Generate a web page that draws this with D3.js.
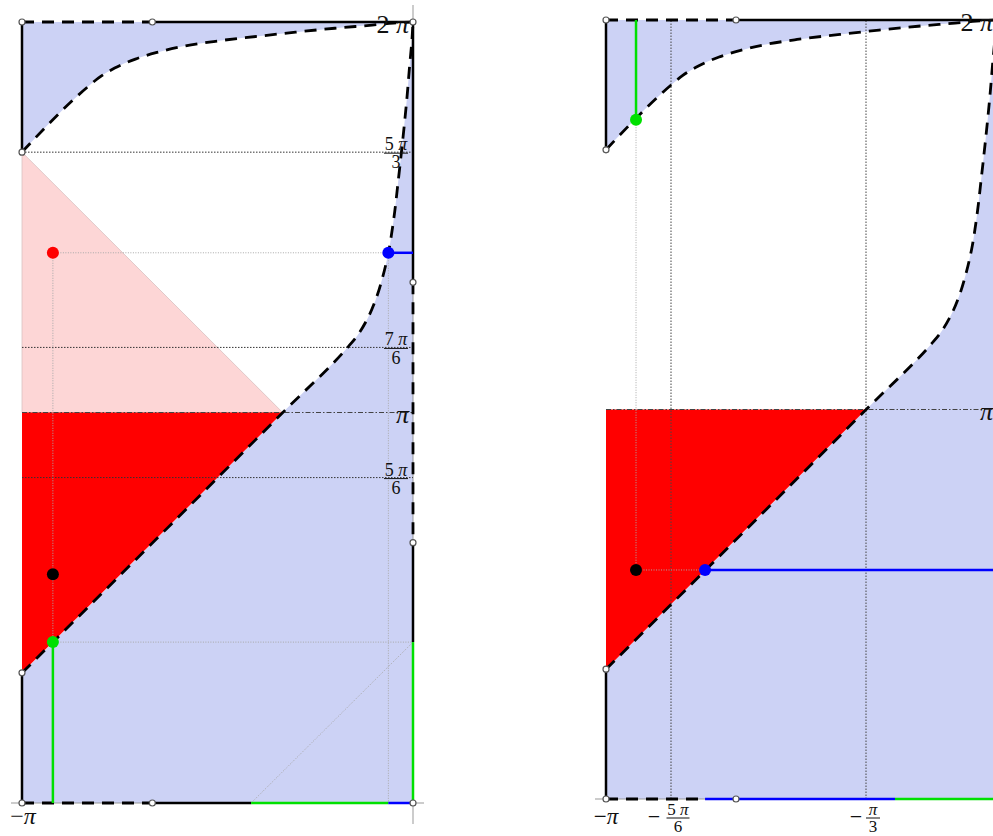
<!DOCTYPE html>
<html><head><meta charset="utf-8">
<script src="https://cdn.jsdelivr.net/npm/d3@7"></script>
<style>body{margin:0;background:#fff}svg{display:block}text{font-family:"Liberation Serif","DejaVu Serif",serif;fill:#111}</style>
</head><body>
<svg id="c" width="993" height="836"></svg>
<script>
// All values in units of π
const upperCurve = [[-1,1.667],[-0.833,1.833],[-0.804,1.857],[-0.763,1.882],[-0.71,1.905],[-0.655,1.922],[-0.591,1.937],[-0.51,1.95],[-0.40,1.963],[-0.30,1.974],[-0.20,1.984],[-0.105,1.992],[-0.05,1.997],[0,2]];
const lowerCurve = [[-1,0.333],[-0.333,1],[-0.167,1.167],[-0.143,1.196],[-0.118,1.237],[-0.095,1.29],[-0.078,1.345],[-0.063,1.409],[-0.05,1.49],[-0.037,1.60],[-0.026,1.70],[-0.016,1.80],[-0.008,1.895],[-0.003,1.95],[0,2]];
const redTriangle = [[-1,1/3],[-1,1],[-1/3,1]];
const pinkTriangle = [[-1,5/3],[-1,1],[-1/3,1]];

// left panel
const leftGridY = [5/3, 7/6, 5/6];
const leftDots = [[-0.921,1.409,"#ff0000"],[-0.063,1.409,"#0000ff"],[-0.921,0.586,"#000000"],[-0.921,0.412,"#00e000"]];
const leftSolid = [[[-1,2],[-1,5/3]],[[-1,1/3],[-1,0]],[[-2/3,2],[0,2]],[[-2/3,0],[-0.414,0]],[[0,2],[0,4/3]],[[0,2/3],[0,0.412]]];
const leftDashed = [[[-1,2],[-2/3,2]],[[-1,0],[-2/3,0]],[[0,4/3],[0,2/3]]];
const leftGreen = [[[-0.414,0],[-0.063,0]],[[0,0.412],[0,0]],[[-0.921,0.412],[-0.921,0]]];
const leftBlue = [[[-0.063,0],[0,0]],[[-0.063,1.409],[0,1.409]]];
const leftConstr = [[[-0.921,1.409],[-0.063,1.409]],[[-0.921,1.409],[-0.921,0.412]],[[-0.921,0.412],[0,0.412]],[[-0.063,1.409],[-0.063,0]],[[-0.414,0],[0,0.412]]];
const leftCircles = [[-1,2],[-2/3,2],[0,2],[-1,5/3],[0,4/3],[0,2/3],[-1,1/3],[-1,0],[-2/3,0],[0,0]];
const leftYLabels = [{v:5/3,n:"5",d:"3"},{v:7/6,n:"7",d:"6"},{v:5/6,n:"5",d:"6"}];

// right panel
const rightGridX = [-5/6, -1/3];
const rightDots = [[-0.923,1.744,"#00e000"],[-0.923,0.588,"#000000"],[-0.746,0.588,"#0000ff"]];
const rightSolid = [[[-1,2],[-1,5/3]],[[-1,1/3],[-1,0]],[[-2/3,2],[0,2]]];
const rightDashed = [[[-1,2],[-2/3,2]],[[-1,0],[-0.746,0]]];
const rightBlue = [[[-0.746,0],[-0.259,0]],[[-0.746,0.588],[0,0.588]]];
const rightGreen = [[[-0.259,0],[0,0]],[[-0.923,1.744],[-0.923,2]]];
const rightConstr = [[[-0.923,1.744],[-0.923,0.588]],[[-0.923,0.588],[-0.746,0.588]]];
const rightCircles = [[-1,2],[-2/3,2],[-1,5/3],[-1,1/3],[-1,0],[-2/3,0]];
const rightXLabels = [{v:-5/6,n:"5",d:"6",off:24},{v:-1/3,n:"",d:"3",off:17}];

const BLUEFILL = "#ccd2f5", PINK = "#fdd6d6", RED = "#ff0000", GREEN = "#00e000", BLUE = "#0000ff";

const svg = d3.select("#c");

function panel(x, y, opts) {
  const g = svg.append("g");
  const lineU = d3.line().x(d=>x(d[0])).y(d=>y(d[1])).curve(d3.curveMonotoneX);
  const lineL = d3.line().x(d=>x(d[0])).y(d=>y(d[1])).curve(d3.curveMonotoneY);
  const seg = d3.line().x(d=>x(d[0])).y(d=>y(d[1]));
  g.append("rect").attr("x", x(-1)).attr("y", y(2)).attr("width", x(0)-x(-1)).attr("height", y(0)-y(2)).attr("fill", BLUEFILL);
  g.append("path").attr("d", lineU(upperCurve) + `L${x(0)},${y(0)}L${x(-1)},${y(0)}Z`).attr("fill", "#fff");
  g.append("path").attr("d", lineL(lowerCurve) + `L${x(0)},${y(0)}L${x(-1)},${y(0)}Z`).attr("fill", BLUEFILL);
  if (opts.pink) g.append("path").attr("d", seg(pinkTriangle)+"Z").attr("fill", PINK).attr("stroke","#d9c2c2").attr("stroke-width",0.8);
  g.append("path").attr("d", seg(redTriangle)+"Z").attr("fill", RED);
  g.append("line").attr("x1", x(-1)-11).attr("x2", opts.axisRight).attr("y1", y(0)).attr("y2", y(0)).attr("stroke","#999").attr("stroke-width",1);
  if (opts.vaxis) g.append("line").attr("x1", x(0)).attr("x2", x(0)).attr("y1", 5).attr("y2", 824).attr("stroke","#999").attr("stroke-width",1);
  (opts.gridY||[]).forEach(v => g.append("line").attr("x1",x(-1)).attr("x2",x(0)).attr("y1",y(v)).attr("y2",y(v)).attr("stroke","#333").attr("stroke-width",1).attr("stroke-dasharray","1.5,1.5"));
  (opts.gridX||[]).forEach(v => g.append("line").attr("x1",x(v)).attr("x2",x(v)).attr("y1",y(0)).attr("y2",y(2)).attr("stroke","#444").attr("stroke-width",1).attr("stroke-dasharray","1.5,1.5"));
  g.append("line").attr("x1",x(-1)).attr("x2",x(0)).attr("y1",y(1)).attr("y2",y(1)).attr("stroke","#444").attr("stroke-width",1).attr("stroke-dasharray","5,2,1.5,2");
  opts.constr.forEach(s => g.append("path").attr("d", seg(s)).attr("fill","none").attr("stroke","#a8a8a8").attr("stroke-width",1).attr("stroke-dasharray","1,1.5"));
  opts.solid.forEach(s => g.append("path").attr("d", seg(s)).attr("fill","none").attr("stroke","#000").attr("stroke-width",2.5));
  opts.dashed.forEach(s => g.append("path").attr("d", seg(s)).attr("fill","none").attr("stroke","#000").attr("stroke-width",2.8).attr("stroke-dasharray","12,8"));
  g.append("path").attr("d", lineU(upperCurve)).attr("fill","none").attr("stroke","#000").attr("stroke-width",2.8).attr("stroke-dasharray","12,8");
  g.append("path").attr("d", lineL(lowerCurve)).attr("fill","none").attr("stroke","#000").attr("stroke-width",2.8).attr("stroke-dasharray","12,8");
  opts.green.forEach(s => g.append("path").attr("d", seg(s)).attr("fill","none").attr("stroke",GREEN).attr("stroke-width",2.5));
  opts.blue.forEach(s => g.append("path").attr("d", seg(s)).attr("fill","none").attr("stroke",BLUE).attr("stroke-width",2.5));
  opts.circles.forEach(c => g.append("circle").attr("cx",x(c[0])).attr("cy",y(c[1])).attr("r",3).attr("fill","#fff").attr("stroke","#555").attr("stroke-width",1.2));
  opts.dots.forEach(d => g.append("circle").attr("cx",x(d[0])).attr("cy",y(d[1])).attr("r",6).attr("fill",d[2]));
  return g;
}

function piText(g, px, py, pre, size, anchor) {
  const t = g.append("text").attr("x",px).attr("y",py).attr("font-size",size).attr("text-anchor",anchor||"middle");
  if (pre) t.append("tspan").text(pre);
  t.append("tspan").attr("font-style","italic").text("π");
  return t;
}
function frac(g, cx, yBar, n, d, size, w) {
  piText(g, cx, yBar-3, n ? n+" " : "", size);
  g.append("line").attr("x1",cx-w/2).attr("x2",cx+w/2).attr("y1",yBar).attr("y2",yBar).attr("stroke","#111").attr("stroke-width",1);
  g.append("text").attr("x",cx).attr("y",yBar+size*0.85).attr("font-size",size).attr("text-anchor","middle").text(d);
}

// Left panel
const xL = d3.scaleLinear().domain([-1,0]).range([22,413]);
const yL = d3.scaleLinear().domain([0,2]).range([803,22]);
const gL = panel(xL, yL, {pink:true, axisRight:424, vaxis:true, gridY:leftGridY, constr:leftConstr, solid:leftSolid, dashed:leftDashed, green:leftGreen, blue:leftBlue, circles:leftCircles, dots:leftDots});
leftYLabels.forEach(l => frac(gL, xL(0)-17, yL(l.v)+1, l.n, l.d, 18, 24));
piText(gL, xL(0)-4, yL(2)+11, "2 ", 26, "end");
piText(gL, xL(0)-4, yL(1)+10, "", 26, "end");
piText(gL, 23, 824, "−", 24, "middle");

// Right panel
const xR = d3.scaleLinear().domain([-1,0]).range([606,996]);
const yR = d3.scaleLinear().domain([0,2]).range([799,20]);
const gR = panel(xR, yR, {pink:false, axisRight:993, vaxis:false, gridX:rightGridX, constr:rightConstr, solid:rightSolid, dashed:rightDashed, green:rightGreen, blue:rightBlue, circles:rightCircles, dots:rightDots});
piText(gR, xR(-1), 824, "−", 23, "middle");
rightXLabels.forEach(l => {
  const cx = xR(l.v) + 7;
  gR.append("text").attr("x", cx-l.off).attr("y", 824).attr("font-size",22).attr("text-anchor","middle").text("−");
  frac(gR, cx, 818, l.n, l.d, 17, l.n ? 23 : 14);
});
piText(gR, 993, yR(2)+11, "2 ", 26, "end");
piText(gR, 993, yR(1)+10, "", 26, "end");
</script>
</body></html>
